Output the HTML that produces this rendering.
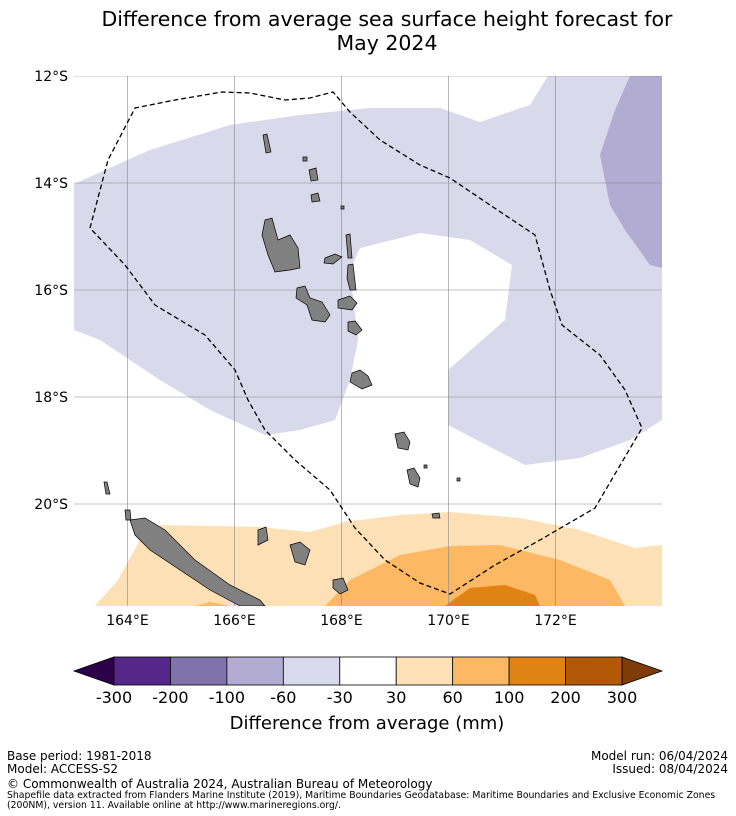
<!DOCTYPE html>
<html><head><meta charset="utf-8"><style>
body{margin:0;background:#fff;font-family:"DejaVu Sans",sans-serif;}
svg{display:block}
text{font-family:"DejaVu Sans",sans-serif;fill:#000}
</style></head><body>
<svg id="chart" width="736" height="816">
<text x="387" y="26" font-size="20.5" text-anchor="middle">Difference from average sea surface height forecast for</text>
<text x="387" y="50" font-size="20.5" text-anchor="middle">May 2024</text>
<defs><clipPath id="mc"><rect x="74" y="76" width="588" height="530"/></clipPath></defs>
<g clip-path="url(#mc)">
<rect x="74" y="76" width="588" height="530" fill="#fff"/>
<polygon fill="#d8daeb" points="74,184 150,150 230,125 300,115 370,108 440,108 480,122 530,105 548,76 662,76 662,420 630,440 580,458 525,465 448,425 448,370 505,320 512,265 470,240 420,233 360,248 350,270 358,340 350,380 335,420 300,430 265,435 210,410 160,380 100,340 74,330"/>
<polygon fill="#b2abd2" points="630,76 662,76 662,268 650,265 625,230 610,205 600,155 615,110"/>
<polygon fill="#fee0b6" points="95,606 118,580 140,540 160,525 260,527 310,532 345,522 400,515 450,512 520,518 580,530 635,548 662,545 662,606"/>
<polygon fill="#fdb863" points="325,606 350,580 400,555 450,546 500,545 560,560 610,580 625,606"/>
<polygon fill="#fdb863" points="195,606 210,602 230,606"/>
<polygon fill="#e08214" points="445,606 470,588 505,585 535,595 540,606"/>
<g id="grid" stroke="#888" stroke-width="0.6"></g>
<polyline fill="none" stroke="#000" stroke-width="1.3" stroke-dasharray="5,3" points="90,228 108,160 135,108 175,100 222,92 250,93 285,100 310,98 333,92 350,112 380,140 420,165 450,178 490,205 535,235 550,290 562,325 600,355 625,390 642,428 595,508 540,540 495,565 450,594 420,583 385,560 355,528 330,490 295,460 265,430 248,400 235,370 205,335 155,305 125,265 90,228"/>
<g fill="#808080" stroke="#000" stroke-width="0.7">
<polygon points="265,220 272,218 278,240 290,235 298,248 300,268 290,270 275,272 268,255 262,235"/>
<polygon points="297,288 305,286 310,298 322,302 330,315 325,322 312,320 307,305 296,298"/>
<polygon points="325,258 335,254 342,257 333,264 324,263"/>
<polygon points="346,235 350,234 352,258 348,258"/>
<polygon points="348,265 353,264 356,290 350,290 347,278"/>
<polygon points="338,300 350,296 357,303 352,310 338,308"/>
<polygon points="348,322 355,321 362,330 356,335 348,331"/>
<polygon points="352,373 360,370 368,376 372,385 362,389 350,382"/>
<polygon points="395,434 404,432 410,442 408,450 398,448"/>
<polygon points="407,470 414,468 420,478 418,487 410,484"/>
<polygon points="432,514 439,513 440,518 433,518"/>
<polygon points="309,170 316,168 318,180 311,181"/>
<polygon points="311,195 318,193 320,201 312,202"/>
<polygon points="263,135 267,134 271,152 266,153"/>
<polygon points="130,520 145,518 165,530 195,560 230,585 260,600 265,606 240,606 210,590 180,570 150,550 135,535"/>
<polygon points="290,545 300,542 310,550 305,565 295,562"/>
<polygon points="258,530 266,527 268,540 258,545"/>
<polygon points="333,580 343,578 348,590 340,594 333,588"/>
<polygon points="104,482 107,482 110,494 106,494"/>
<polygon points="125,510 130,510 131,520 126,520"/>
<polygon points="303,157 307,157 307,161 303,161"/><polygon points="341,206 344,206 344,209 341,209"/>
<polygon points="424,465 427,465 427,468 424,468"/><polygon points="457,478 460,478 460,481 457,481"/>
</g>
</g>
<g id="ticks"></g>
<g id="cbar"></g>
<text x="367" y="729" font-size="18" text-anchor="middle">Difference from average (mm)</text>
<text x="7" y="760" font-size="12">Base period: 1981-2018</text>
<text x="7" y="773" font-size="12">Model: ACCESS-S2</text>
<text x="728" y="760" font-size="12" text-anchor="end">Model run: 06/04/2024</text>
<text x="728" y="773" font-size="12" text-anchor="end">Issued: 08/04/2024</text>
<text x="7" y="788" font-size="12">© Commonwealth of Australia 2024, Australian Bureau of Meteorology</text>
<text x="7" y="798" font-size="9.3">Shapefile data extracted from Flanders Marine Institute (2019), Maritime Boundaries Geodatabase: Maritime Boundaries and Exclusive Economic Zones</text>
<text x="7" y="808" font-size="9.3">(200NM), version 11. Available online at http://www.marineregions.org/.</text>
</svg>
<script>
const lonTicks=[164,166,168,170,172];
const latTicks=[12,14,16,18,20];
const levels=["-300","-200","-100","-60","-30","30","60","100","200","300"];
const colors=["#542788","#8073ac","#b2abd2","#d8daeb","#ffffff","#fee0b6","#fdb863","#e08214","#b35806"];
const extLow="#2d004b", extHigh="#7f3b08";
const NS="http://www.w3.org/2000/svg";
function x(lon){return 74+(lon-163)*53.5;}
function y(lat){return 76+(lat-12)*53.5;}
function mk(t,a,p){const e=document.createElementNS(NS,t);for(const k in a)e.setAttribute(k,a[k]);p.appendChild(e);return e;}
const grid=document.getElementById('grid'),ticks=document.getElementById('ticks');
lonTicks.forEach(l=>{const g=mk('line',{x1:x(l),x2:x(l),y1:76,y2:606},grid);


const t=mk('text',{x:x(l),y:625,'font-size':14,'text-anchor':'middle'},ticks);t.textContent=l+'°E';

});
latTicks.forEach(l=>{const g=mk('line',{x1:74,x2:662,y1:y(l),y2:y(l)},grid);


const t=mk('text',{x:68,y:y(l)+5,'font-size':14,'text-anchor':'end'},ticks);t.textContent=l+'°S';

});
const cb=document.getElementById('cbar');
const x0=114,x1=622,y0=657,h=28,w=(x1-x0)/colors.length;
const lo=mk('polygon',{points:`74,${y0+h/2} ${x0},${y0} ${x0},${y0+h}`,fill:extLow,stroke:'#000','stroke-width':0.8},cb);


const hi=mk('polygon',{points:`662,${y0+h/2} ${x1},${y0} ${x1},${y0+h}`,fill:extHigh,stroke:'#000','stroke-width':0.8},cb);


colors.forEach((c,i)=>{const r=mk('rect',{x:x0+i*w,y:y0,width:w,height:h,fill:c,stroke:'#000','stroke-width':0.8},cb);

});
levels.forEach((v,i)=>{const t=mk('text',{x:x0+i*w,y:703,'font-size':16,'text-anchor':'middle'},cb);t.textContent=v;

});
</script>
</body></html>
